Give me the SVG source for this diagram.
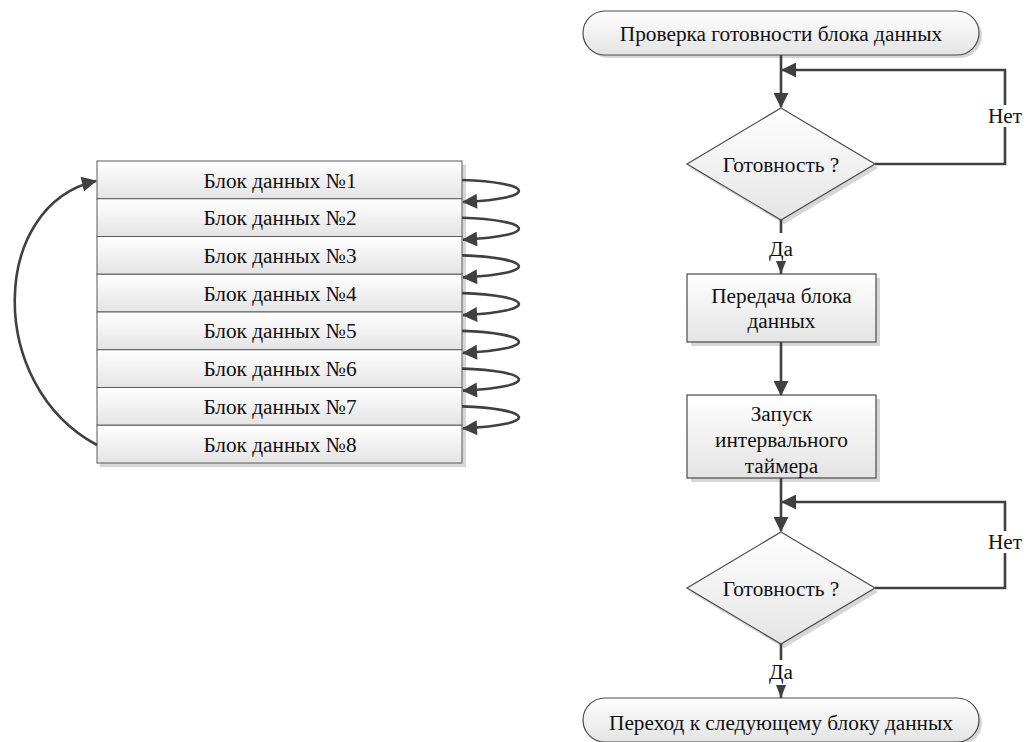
<svg xmlns="http://www.w3.org/2000/svg" width="1027" height="742" viewBox="0 0 1027 742">
<defs>
<linearGradient id="g" x1="0" y1="0" x2="0" y2="1">
<stop offset="0" stop-color="#ffffff"/>
<stop offset="1" stop-color="#e4e4e4"/>
</linearGradient>
<marker id="arr" viewBox="0 0 16 16" refX="15" refY="8" markerWidth="16" markerHeight="15" markerUnits="userSpaceOnUse" orient="auto">
<path d="M0,0 L16,8 L0,16 z" fill="#404040"/>
</marker>
<marker id="arrs" viewBox="0 0 13 10" refX="13" refY="5" markerWidth="13" markerHeight="10" markerUnits="userSpaceOnUse" orient="auto">
<path d="M0,0 L13,5 L0,10 z" fill="#404040"/>
</marker>
<style>
.t{font-family:"Liberation Serif","Times New Roman",serif;font-size:21.3px;fill:#111;text-anchor:middle}
.row{fill:url(#g);stroke:#5a5a5a;stroke-width:1}
.box{fill:url(#g);stroke:#4a4a4a;stroke-width:1.2}
.sh{fill:#d6d6d6}
.c{fill:none;stroke:#404040;stroke-width:2.6}
.lbg{fill:#ffffff}
</style>
</defs>

<g id="blocks">
<rect class="sh" x="100" y="165" width="366" height="302"/>
<g id="block1"><rect class="row" x="97" y="161" width="365" height="37.75"/><text class="t" x="280" y="187.5">Блок данных №1</text></g>
<g id="block2"><rect class="row" x="97" y="198.75" width="365" height="37.75"/><text class="t" x="280" y="225">Блок данных №2</text></g>
<g id="block3"><rect class="row" x="97" y="236.5" width="365" height="37.75"/><text class="t" x="280" y="262.8">Блок данных №3</text></g>
<g id="block4"><rect class="row" x="97" y="274.25" width="365" height="37.75"/><text class="t" x="280" y="300.5">Блок данных №4</text></g>
<g id="block5"><rect class="row" x="97" y="312" width="365" height="37.75"/><text class="t" x="280" y="338.3">Блок данных №5</text></g>
<g id="block6"><rect class="row" x="97" y="349.75" width="365" height="37.75"/><text class="t" x="280" y="376">Блок данных №6</text></g>
<g id="block7"><rect class="row" x="97" y="387.5" width="365" height="37.75"/><text class="t" x="280" y="413.8">Блок данных №7</text></g>
<g id="block8"><rect class="row" x="97" y="425.25" width="365" height="37.75"/><text class="t" x="280" y="451.5">Блок данных №8</text></g>
</g>

<g id="start">
<rect class="sh" x="586" y="14" width="396" height="44" rx="22"/>
<rect class="box" x="583" y="11" width="396" height="44" rx="22"/>
<text class="t" x="781" y="40.5">Проверка готовности блока данных</text>
</g>
<g id="check1">
<polygon class="sh" points="784,112 878,168 784,224 690,168"/>
<polygon class="box" points="781,108 875,164 781,220 687,164" stroke-width="1"/>
<text class="t" x="781" y="171.5">Готовность ?</text>
</g>
<g id="transfer">
<rect class="sh" x="691" y="278" width="189" height="68"/>
<rect class="box" x="687" y="274" width="189" height="68"/>
<text class="t" x="781.5" y="302.5">Передача блока</text>
<text class="t" x="781.5" y="327.5">данных</text>
</g>
<g id="timer">
<rect class="sh" x="691" y="399" width="189" height="83"/>
<rect class="box" x="687" y="395" width="189" height="83"/>
<text class="t" x="781.5" y="420.5">Запуск</text>
<text class="t" x="781.5" y="447">интервального</text>
<text class="t" x="781.5" y="472.5">таймера</text>
</g>
<g id="check2">
<polygon class="sh" points="784,536 878,592 784,648 690,592"/>
<polygon class="box" points="781,532 875,588 781,644 687,588" stroke-width="1"/>
<text class="t" x="781" y="595.5">Готовность ?</text>
</g>
<g id="end">
<rect class="sh" x="586" y="701" width="396" height="44" rx="22"/>
<rect class="box" x="583" y="698" width="396" height="44" rx="22"/>
<text class="t" x="781" y="729.5">Переход к следующему блоку данных</text>
</g>

<g id="connectors">
<path class="c" d="M462,180 C530,182 545,198 463,202" marker-end="url(#arr)"/>
<path class="c" d="M462,217.7 C530,219.7 545,235.7 463,239.7" marker-end="url(#arr)"/>
<path class="c" d="M462,255.4 C530,257.4 545,273.4 463,277.4" marker-end="url(#arr)"/>
<path class="c" d="M462,293.1 C530,295.1 545,311.1 463,315.1" marker-end="url(#arr)"/>
<path class="c" d="M462,330.9 C530,332.9 545,348.9 463,352.9" marker-end="url(#arr)"/>
<path class="c" d="M462,368.6 C530,370.6 545,386.6 463,390.6" marker-end="url(#arr)"/>
<path class="c" d="M462,406.4 C530,408.4 545,424.4 463,428.4" marker-end="url(#arr)"/>
<path class="c" d="M97,445 C-15,385 -10,205 96,181" marker-end="url(#arr)"/>

<path class="c" d="M781,55 L781,107" marker-end="url(#arr)"/>
<path class="c" d="M875,164 L1005,164 L1005,70 L782,70" marker-end="url(#arr)"/>
<rect class="lbg" x="987" y="105" width="36" height="22"/>
<text class="t" x="1005" y="122.5">Нет</text>
<path class="c" d="M781,220 L781,233"/>
<text class="t" x="781" y="255.5">Да</text>
<path class="c" d="M781,262 L781,274" marker-end="url(#arrs)"/>
<path class="c" d="M781,342 L781,395" marker-end="url(#arr)"/>
<path class="c" d="M781,478 L781,531" marker-end="url(#arr)"/>
<path class="c" d="M875,588 L1005,588 L1005,502 L782,502" marker-end="url(#arr)"/>
<rect class="lbg" x="987" y="531" width="36" height="22"/>
<text class="t" x="1005" y="548.5">Нет</text>
<path class="c" d="M781,644 L781,660"/>
<text class="t" x="781" y="678.5">Да</text>
<path class="c" d="M781,686 L781,698" marker-end="url(#arrs)"/>
</g>
</svg>
